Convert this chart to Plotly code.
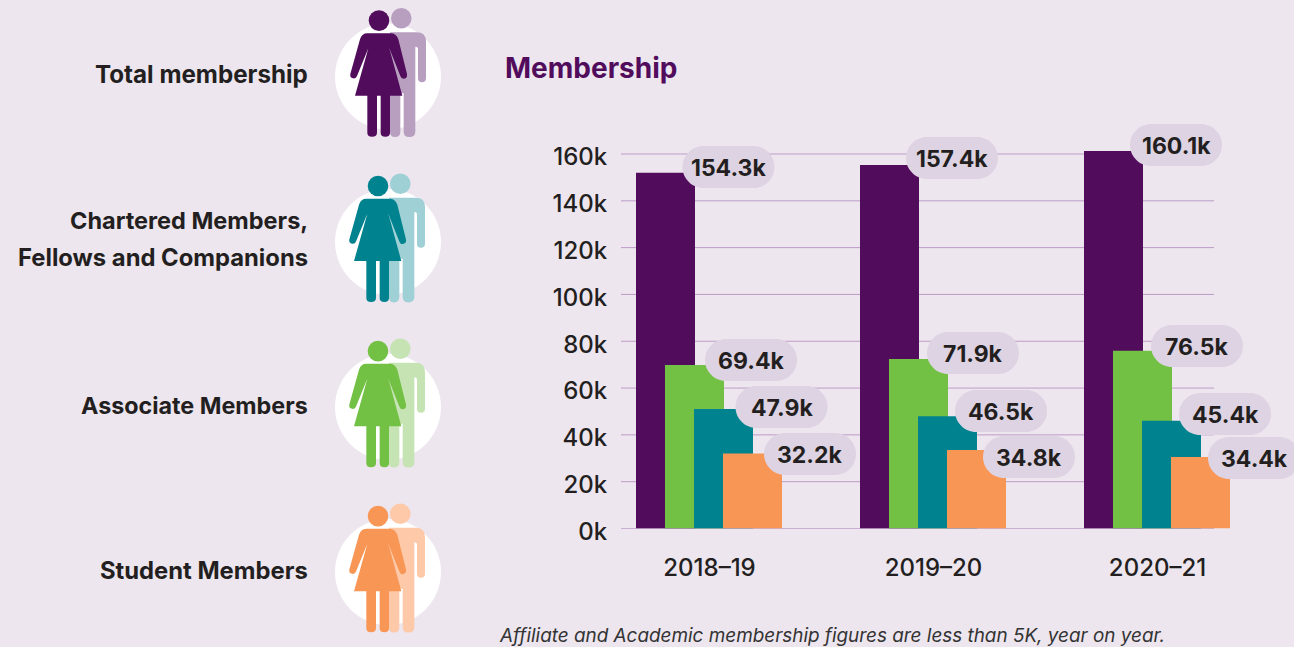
import plotly.graph_objects as go

W, H = 1294, 647
YEARS = ["2018–19", "2019–20", "2020–21"]
TOTAL = [152.0, 155.3, 161.3]
ASSOCIATE = [69.9, 72.4, 75.9]
CHARTERED = [51.0, 48.0, 46.0]
STUDENT = [32.0, 33.5, 30.5]
TOTAL_LABELS = ["154.3k", "157.4k", "160.1k"]
ASSOCIATE_LABELS = ["69.4k", "71.9k", "76.5k"]
CHARTERED_LABELS = ["47.9k", "46.5k", "45.4k"]
STUDENT_LABELS = ["32.2k", "34.8k", "34.4k"]
Y_TICKS = [0, 20, 40, 60, 80, 100, 120, 140, 160]
Y_TICK_LABELS = ["0k", "20k", "40k", "60k", "80k", "100k", "120k", "140k", "160k"]

PURPLE, PURPLE_L = "#510c5c", "#b89fc0"
TEAL, TEAL_L = "#00838f", "#9fd0d6"
GREEN, GREEN_L = "#72c044", "#c5e3b3"
ORANGE, ORANGE_L = "#f89655", "#fdc9a9"
BG, PILL, INK, GRID = "#ede6ef", "#ded3e2", "#231f20", "#bd9cc6"
FONT = "Inter"

px = lambda x: x / W
py = lambda y: 1 - y / H


def path(cmds, dx=0, dy=0):
    out = []
    for c in cmds:
        letter, pts = c[0], c[1:]
        coords = [f"{px(pts[i] / 3 + 330 + dx):.5f},{py(pts[i + 1] / 3 + dy):.5f}" for i in range(0, len(pts), 2)]
        out.append(letter + " ".join(coords))
    return " ".join(out) + " Z"


WOMAN = [
    ("M", 112, 100), ("L", 182, 100), ("Q", 198, 100, 205, 118), ("L", 231, 222), ("Q", 233, 234, 222, 236),
    ("Q", 214, 237, 211, 228), ("L", 178, 145), ("L", 217, 287), ("L", 180, 287), ("L", 180, 398), ("Q", 180, 410, 166, 410),
    ("Q", 152, 410, 152, 398), ("L", 152, 287), ("L", 141, 287), ("L", 141, 398), ("Q", 141, 410, 126, 410),
    ("Q", 112, 410, 112, 398), ("L", 112, 287), ("L", 75, 287), ("L", 115, 145), ("L", 81, 228), ("Q", 78, 237, 69, 235),
    ("Q", 59, 233, 61, 222), ("L", 90, 118), ("Q", 96, 100, 112, 100),
]
MAN = [
    ("M", 180, 97), ("L", 260, 97), ("Q", 288, 97, 288, 125), ("L", 288, 235), ("Q", 288, 247, 276, 247),
    ("Q", 264, 247, 264, 235), ("L", 264, 146), ("Q", 264, 140, 256, 140), ("L", 256, 395), ("Q", 256, 411, 238, 411),
    ("Q", 221, 411, 221, 395), ("L", 221, 280), ("L", 211, 280), ("L", 211, 395), ("Q", 211, 411, 195, 411),
    ("Q", 180, 411, 180, 395),
]

shapes = []


def circle(cx, cy, r, color):
    return dict(type="circle", xref="paper", yref="paper", x0=px(cx - r), x1=px(cx + r), y0=py(cy + r), y1=py(cy - r),
                fillcolor=color, line_width=0, layer="below")


ROWS = [(0, 0, PURPLE, PURPLE_L), (-1, 165.4, TEAL, TEAL_L), (-1, 330.5, GREEN, GREEN_L), (-1, 495.5, ORANGE, ORANGE_L)]
for dx, dy, dark, light in ROWS:
    shapes.append(circle(388, 76.5 + dy, 53, "white"))
    shapes.append(circle(401.3 + dx, 18.3 + dy, 10.3, light))
    shapes.append(dict(type="path", xref="paper", yref="paper", path=path(MAN, dx, dy), fillcolor=light, line_width=0, layer="below"))
    shapes.append(circle(379 + dx, 20.6 + dy, 10.3, dark))
    shapes.append(dict(type="path", xref="paper", yref="paper", path=path(WOMAN, dx, dy), fillcolor=dark, line_width=0, layer="below"))

# Gridlines stop short of the last bar, as in the reference
for v in Y_TICKS:
    shapes.append(dict(type="line", xref="paper", yref="y", x0=px(621), x1=px(1214), y0=v, y1=v,
                       line=dict(color="#a87db3" if v == 0 else GRID, width=1), layer="below"))


def pill(cx, cy, w=92, h=42):
    r = h / 2
    x0, x1 = cx - w / 2, cx + w / 2
    y0, y1 = cy - r, cy + r
    k = r * 0.45
    p = (f"M{px(x0 + r):.5f},{py(y0):.5f} L{px(x1 - r):.5f},{py(y0):.5f} "
         f"C{px(x1 - k):.5f},{py(y0):.5f} {px(x1):.5f},{py(y0 + k):.5f} {px(x1):.5f},{py(cy):.5f} "
         f"C{px(x1):.5f},{py(y1 - k):.5f} {px(x1 - k):.5f},{py(y1):.5f} {px(x1 - r):.5f},{py(y1):.5f} "
         f"L{px(x0 + r):.5f},{py(y1):.5f} "
         f"C{px(x0 + k):.5f},{py(y1):.5f} {px(x0):.5f},{py(y1 - k):.5f} {px(x0):.5f},{py(cy):.5f} "
         f"C{px(x0):.5f},{py(y0 + k):.5f} {px(x0 + k):.5f},{py(y0):.5f} {px(x0 + r):.5f},{py(y0):.5f} Z")
    return dict(type="path", xref="paper", yref="paper", path=p, fillcolor=PILL, line_width=0, layer="above")


annotations = []


def text(x, y, s, size=24, color=INK, anchor="center", weight=700, style="normal"):
    annotations.append(dict(xref="paper", yref="paper", x=px(x), y=py(y), text=s, showarrow=False, xanchor=anchor,
                            yanchor="middle", font=dict(family=FONT, size=size, color=color, weight=weight, style=style)))


LABEL_CENTRES = [
    (TOTAL_LABELS, [(728.5, 167), (952, 158), (1176, 145)]),
    (ASSOCIATE_LABELS, [(751, 360), (973, 353), (1197, 346)]),
    (CHARTERED_LABELS, [(781.5, 407), (1001, 411), (1225, 414)]),
    (STUDENT_LABELS, [(810, 454), (1029, 457), (1254, 458)]),
]
for labels, centres in LABEL_CENTRES:
    for s, (cx, cy) in zip(labels, centres):
        shapes.append(pill(cx, cy))
        text(cx, cy + 1, s, size=23)

text(310, 75, "Total membership", size=24.2, anchor="right")
text(310, 221, "Chartered Members,", size=23.5, anchor="right")
text(310, 257, "Fellows and Companions", size=23.8, anchor="right")
text(310, 405, "Associate Members", size=23.3, anchor="right")
text(310, 570, "Student Members", size=23.8, anchor="right")
text(503, 68, "Membership", size=28, color=PURPLE, anchor="left")
text(497, 635, "Affiliate and Academic membership figures are less than 5K, year on year.", size=18.9, color="#333333",
     anchor="left", weight=400, style="italic")

WIDTH = 59 / 224
PX_PER_K = (528.5 - 154) / 160
Y_TOP = 170
series = [(TOTAL, PURPLE, -73.5), (ASSOCIATE, GREEN, -44.5), (CHARTERED, TEAL, -15.5), (STUDENT, ORANGE, 13.5)]
fig = go.Figure()
for vals, color, off in series:
    fig.add_bar(x=YEARS, y=vals, width=WIDTH, offset=off / 224, marker=dict(color=color, line_width=0), hoverinfo="skip")

fig.update_layout(
    template="none", width=W, height=H, margin=dict(l=0, r=0, t=0, b=0, pad=0), autosize=False, barmode="overlay", showlegend=False,
    paper_bgcolor=BG, plot_bgcolor="rgba(0,0,0,0)", shapes=shapes, annotations=annotations,
    font=dict(family=FONT, color=INK, size=24, weight=500),
    xaxis=dict(domain=[px(621), px(1240)], type="category", categoryorder="array", categoryarray=YEARS, automargin=False,
               range=[(621 - 709.5) / 224, (1240 - 709.5) / 224], showgrid=False, zeroline=False, showline=False,
               ticks="outside", ticklen=18, tickcolor="rgba(0,0,0,0)"),
    yaxis=dict(domain=[py(528.5), py(528.5 - Y_TOP * PX_PER_K)], range=[0, Y_TOP], tickvals=Y_TICKS, ticktext=Y_TICK_LABELS,
               automargin=False, showgrid=False, zeroline=False, showline=False, ticks="outside", ticklen=8,
               ticklabelshift=3, tickcolor="rgba(0,0,0,0)"),
)
fig.write_html("out.html", config=dict(displayModeBar=False),
               post_script="document.body.style.margin='0';document.body.style.overflow='hidden';")
